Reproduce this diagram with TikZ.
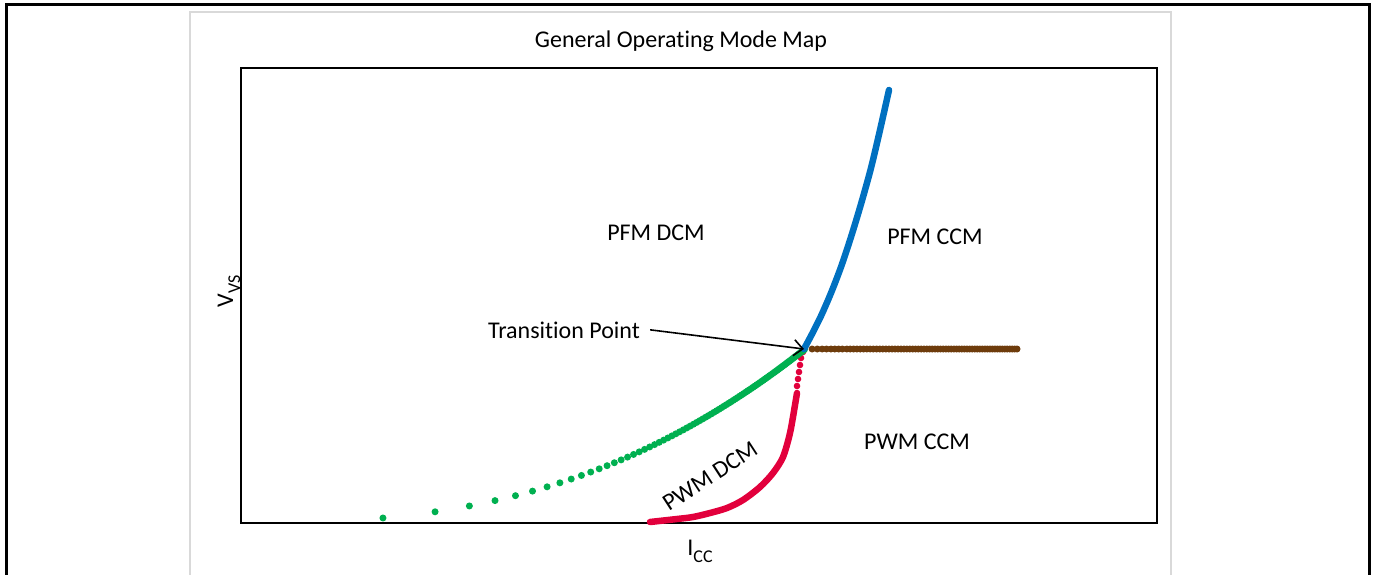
\documentclass[tikz,border=0pt]{standalone}
\usepackage{fontspec}
\setmainfont{Carlito}[Ligatures={NoCommon}]
\usetikzlibrary{arrows.meta}
\definecolor{MapBlue}{HTML}{0070C0}
\definecolor{MapGreen}{HTML}{00B050}
\definecolor{MapRed}{HTML}{E2003C}
\definecolor{MapBrown}{HTML}{6E3C0C}
\definecolor{MapGrey}{HTML}{D9D9D9}
\newcommand{\subtxt}[2]{#1\raisebox{-0.3em}{\fontsize{18}{18}\selectfont #2}}

\begin{document}
\begin{tikzpicture}[x=1pt,y=-1pt,
    label/.style={font=\fontsize{24}{28}\selectfont,inner sep=0pt,anchor=base},
    curve/.style={line width=6.5pt,line cap=round,line join=round},
    arrow/.style={-{Straight Barb[length=9pt,width=16pt]},line width=1.6pt}
  ]
    \useasboundingbox (0,0) rectangle (1373,575);
    \draw[line width=3pt] (6,575) -- (6,5) -- (1369,5) -- (1369,575);
    \draw[MapGrey,line width=1.5pt] (190,575) -- (190,12) -- (1171,12) -- (1171,575);
    \draw[line width=1.3pt] (241,68) rectangle (1157,523);
    \foreach \rx/\ry in {803/352,801/358,800/365,799/372,798/379,797/386}
      \fill[MapRed] (\rx,\ry) circle (3.3pt);
    \draw[curve,MapRed] plot[smooth] coordinates {(797,393) (795,405) (790,433) (783,457) (773,473) (760,487) (743,500) (727,508) (710,513) (693,517) (677,519) (650,522)};
    \foreach \k in {0,...,92} {
      \pgfmathsetmacro{\gx}{341.6+102*ln(\k+1.5)}
      \pgfmathsetmacro{\gy}{523-174*exp(2.57*ln((\gx-241)/564))}
      \fill[MapGreen] (\gx,\gy) circle (3.5pt);
    }
    \foreach \k in {1,...,70} {
      \pgfmathsetmacro{\bx}{805+212*exp(0.8*ln(\k/70))}
      \fill[MapBrown] (\bx,349) circle (3.5pt);
    }
    \draw[curve,MapBlue] plot[smooth] coordinates {(804,349) (812,334) (821,316) (831,293) (841,267) (851,237) (861,204) (871,168) (880,130) (889,90)};
    \node[label] (title) at (681,48) {General Operating Mode Map};
    \node[label] (pfmdcm) at (656,240) {PFM DCM};
    \node[label] (pfmccm) at (935,244) {PFM CCM};
    \node[label] (pwmccm) at (917,449) {PWM CCM};
    \node[label,anchor=center,rotate=33] (pwmdcm) at (710,476) {PWM DCM};
    \node[label] (trans) at (564,338) {Transition Point};
    \node[label,rotate=90] (vvs) at (233,291) {\subtxt{V}{VS}};
    \node[label] (icc) at (700,555) {\subtxt{I}{CC}};
    \coordinate (tp) at (804,349);
    \draw[arrow] ([xshift=10pt]trans.east) -- (tp);
\end{tikzpicture}
\end{document}
